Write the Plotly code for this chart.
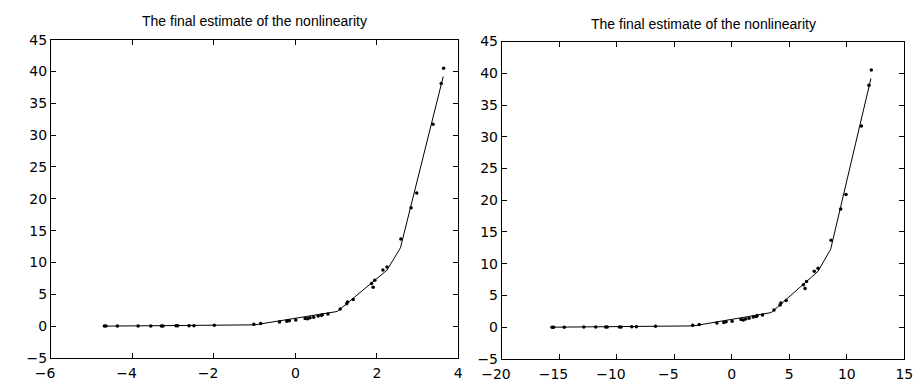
import plotly.graph_objects as go

# ---- data ----
# left panel: scattered samples
left_pts_x = [-4.69, -4.65, -4.37, -3.86, -3.55, -3.29, -3.25, -2.93, -2.89, -2.61,
              -2.49, -1.99, -1.02, -0.85, -0.39, -0.21, -0.15, 0.01, 0.24, 0.30,
              0.36, 0.45, 0.56, 0.64, 0.66, 0.80, 1.10, 1.26, 1.28, 1.42,
              1.87, 1.91, 1.95, 2.15, 2.25, 2.59, 2.84, 2.98, 3.38, 3.58, 3.64]
pts_y = [0.0, 0.0, 0.0, 0.02, 0.03, 0.03, 0.03, 0.04, 0.04, 0.05,
         0.06, 0.15, 0.30, 0.42, 0.65, 0.75, 0.85, 0.95, 1.20, 1.15,
         1.30, 1.40, 1.60, 1.70, 1.80, 1.90, 2.70, 3.50, 3.80, 4.20,
         6.70, 6.10, 7.20, 8.80, 9.30, 13.70, 18.60, 20.90, 31.70, 38.10, 40.50]
# right panel: same samples on the other input scale
right_pts_x = [-15.63, -15.50, -14.57, -12.87, -11.83, -10.97, -10.83, -9.77, -9.63, -8.70,
               -8.30, -6.63, -3.40, -2.83, -1.30, -0.70, -0.50, 0.03, 0.80, 1.00,
               1.20, 1.50, 1.87, 2.13, 2.20, 2.67, 3.67, 4.20, 4.27, 4.73,
               6.23, 6.37, 6.50, 7.17, 7.50, 8.63, 9.47, 9.93, 11.27, 11.93, 12.13]

# estimated piecewise-linear nonlinearity
left_line_x = [-4.65, -1.00, 1.03, 2.25, 2.58, 3.63]
line_y = [0.0, 0.2, 2.3, 8.8, 12.3, 39.2]
right_line_x = [-15.50, -3.33, 3.43, 7.50, 8.60, 12.10]

left_xticks = [-6, -4, -2, 0, 2, 4]
right_xticks = [-20, -15, -10, -5, 0, 5, 10, 15]
yticks = [-5, 0, 5, 10, 15, 20, 25, 30, 35, 40, 45]

title_text = "The final estimate of the nonlinearity"
TITLE_FONT = "Liberation Sans, Arial, Helvetica, sans-serif"
TICK_FONT = "DejaVu Sans, Liberation Sans, sans-serif"


def xlab(v):
    # MATLAB-style: digits centred on the tick, minus sign hanging to the left
    if v < 0:
        return "\u2212" + str(-v) + "<span style='color:rgba(0,0,0,0)'>\u2212</span>"
    return str(v)


def ylab(v):
    return ("\u2212" + str(-v)) if v < 0 else str(v)


fig = go.Figure()
fig.add_trace(go.Scatter(x=left_line_x, y=line_y, mode="lines",
                         line=dict(color="black", width=1), xaxis="x", yaxis="y",
                         showlegend=False))
fig.add_trace(go.Scatter(x=left_pts_x, y=pts_y, mode="markers",
                         marker=dict(color="black", size=3.5), xaxis="x", yaxis="y",
                         showlegend=False))
fig.add_trace(go.Scatter(x=right_line_x, y=line_y, mode="lines",
                         line=dict(color="black", width=1), xaxis="x2", yaxis="y2",
                         showlegend=False))
fig.add_trace(go.Scatter(x=right_pts_x, y=pts_y, mode="markers",
                         marker=dict(color="black", size=3.5), xaxis="x2", yaxis="y2",
                         showlegend=False))

ax_common = dict(showline=True, linecolor="black", linewidth=1, mirror="ticks",
                 ticks="inside", ticklen=5, tickcolor="black", showgrid=False,
                 zeroline=False, tickfont=dict(family=TICK_FONT, size=14, color="black"))

fig.update_layout(
    width=922, height=388,
    margin=dict(l=0, r=0, t=0, b=0),
    paper_bgcolor="white", plot_bgcolor="white",
    font=dict(family=TITLE_FONT, color="black"),
    xaxis=dict(domain=[31/922, 452/922], range=[-6, 4], tickmode="array",
               tickvals=left_xticks, ticktext=[xlab(v) for v in left_xticks],
               ticklabelstandoff=2, anchor="y", **ax_common),
    yaxis=dict(domain=[23/388, 355/388], range=[-5, 45], tickmode="array",
               tickvals=yticks, ticktext=[ylab(v) for v in yticks], anchor="x", **ax_common),
    xaxis2=dict(domain=[497/922, 913/922], range=[-20, 15], tickmode="array",
                tickvals=right_xticks, ticktext=[xlab(v) for v in right_xticks],
                ticklabelstandoff=2, anchor="y2", **ax_common),
    yaxis2=dict(domain=[22/388, 353/388], range=[-5, 45], tickmode="array",
                tickvals=yticks, ticktext=[ylab(v) for v in yticks], anchor="x2", **ax_common),
    annotations=[
        dict(text=title_text, xref="paper", yref="paper", x=241.5/922, y=1 - 14/388,
             xanchor="center", yanchor="middle", showarrow=False,
             font=dict(family=TITLE_FONT, size=14, color="black")),
        dict(text=title_text, xref="paper", yref="paper", x=705/922, y=1 - 17/388,
             xanchor="center", yanchor="middle", showarrow=False,
             font=dict(family=TITLE_FONT, size=14, color="black")),
    ],
)

fig.write_html("out.html")
